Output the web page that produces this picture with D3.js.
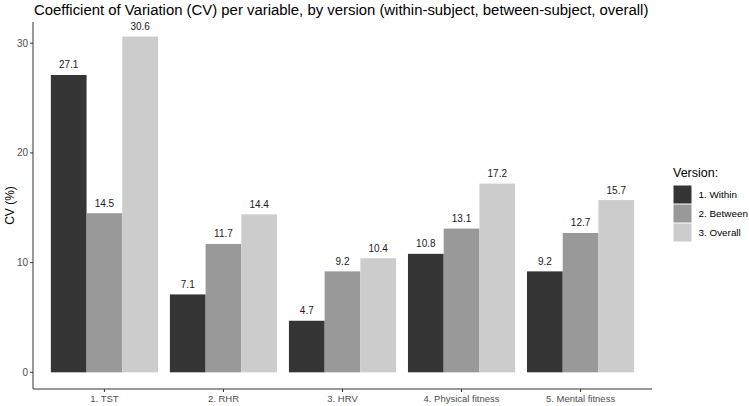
<!DOCTYPE html>
<html><head><meta charset="utf-8">
<script src="https://cdn.jsdelivr.net/npm/d3@7"></script>
<style>body{margin:0;background:#fff}svg{display:block;font-family:"Liberation Sans",Arial,sans-serif}</style>
</head><body><svg id="c" width="749" height="406"></svg>
<script>
const categories = ["1. TST","2. RHR","3. HRV","4. Physical fitness","5. Mental fitness"];
const versions = ["1. Within","2. Between","3. Overall"];
const within = [27.1, 7.1, 4.7, 10.8, 9.2];
const between = [14.5, 11.7, 9.2, 13.1, 12.7];
const overall = [30.6, 14.4, 10.4, 17.2, 15.7];
const yTicks = [0, 10, 20, 30];
const colors = ["#353535", "#999999", "#cccccc"];

const series = [within, between, overall];
const svg = d3.select("#c");
const L = 33, R = 652, T = 22, B = 389;

// ggplot-like discrete axis: expansion 0.6 units each side, dodge width 0.9
const unit = (R - L) / 5.2;
const x = d3.scalePoint().domain(categories).range([L + 0.6*unit, R - 0.6*unit]);
const xs = d3.scaleBand().domain(versions).range([-0.45*unit, 0.45*unit]);
const y = d3.scaleLinear().domain([-1.52, 31.93]).range([B, T]);

const g = svg.append("g");
categories.forEach((c, i) => {
  versions.forEach((v, j) => {
    const val = series[j][i];
    g.append("rect")
      .attr("x", x(c) + xs(v)).attr("width", xs.bandwidth())
      .attr("y", y(val)).attr("height", y(0) - y(val))
      .attr("fill", colors[j]);
    g.append("text")
      .attr("x", x(c) + xs(v) + xs.bandwidth()/2).attr("y", y(val) - 6.5)
      .attr("text-anchor", "middle").attr("font-size", 10).attr("fill", "#1a1a1a")
      .text(val.toFixed(1));
  });
});

// axes
const axisColor = "#333333";
svg.append("line").attr("x1", L).attr("x2", L).attr("y1", T).attr("y2", B).attr("stroke", axisColor).attr("stroke-width", 1);
svg.append("line").attr("x1", L).attr("x2", R).attr("y1", B).attr("y2", B).attr("stroke", axisColor).attr("stroke-width", 1);
yTicks.forEach(t => {
  svg.append("line").attr("x1", L - 3).attr("x2", L).attr("y1", y(t)).attr("y2", y(t)).attr("stroke", axisColor);
  svg.append("text").attr("x", L - 5).attr("y", y(t) + 3.5).attr("text-anchor", "end")
    .attr("font-size", 10).attr("fill", "#4d4d4d").text(t);
});
categories.forEach(c => {
  svg.append("line").attr("x1", x(c)).attr("x2", x(c)).attr("y1", B).attr("y2", B + 3).attr("stroke", axisColor);
  svg.append("text").attr("x", x(c)).attr("y", B + 12.5).attr("text-anchor", "middle")
    .attr("font-size", 9.5).attr("fill", "#4d4d4d").text(c);
});
svg.append("text").attr("transform", `translate(13.5,${(T+B)/2}) rotate(-90)`).attr("text-anchor", "middle")
  .attr("font-size", 12).attr("fill", "#000").text("CV (%)");

// title
svg.append("text").attr("x", 34).attr("y", 14.5).attr("font-size", 14.9).attr("fill", "#000")
  .text("Coefficient of Variation (CV) per variable, by version (within-subject, between-subject, overall)");

// legend
const lg = svg.append("g");
lg.append("text").attr("x", 673).attr("y", 177).attr("font-size", 12.5).attr("fill", "#000").text("Version:");
versions.forEach((v, j) => {
  lg.append("rect").attr("x", 673.5).attr("y", 185.5 + j*19).attr("width", 18).attr("height", 18).attr("fill", colors[j]);
  lg.append("text").attr("x", 698.5).attr("y", 198 + j*19).attr("font-size", 9.9).attr("fill", "#000").text(v);
});
</script></body></html>
